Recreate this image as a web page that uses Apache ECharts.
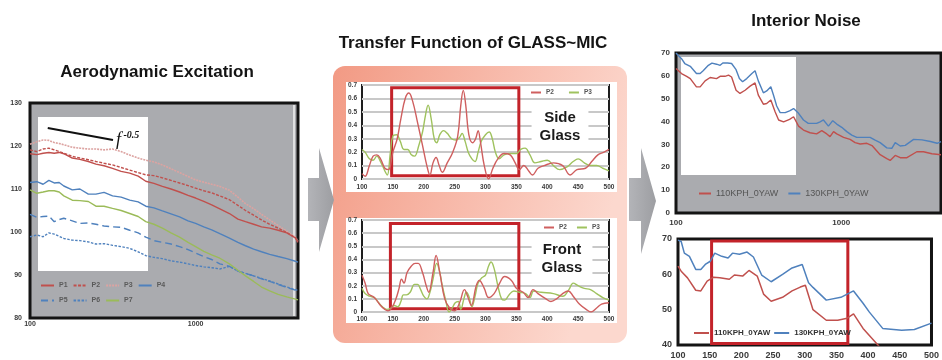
<!DOCTYPE html>
<html><head><meta charset="utf-8">
<script src="https://cdn.jsdelivr.net/npm/echarts@6/dist/echarts.min.js"></script>
<style>html,body{margin:0;padding:0;background:#fff}#c{width:942px;height:360px}</style>
</head><body><div id="c"></div>
<script>
// ---------- Aerodynamic Excitation (log frequency) ----------
const aeroFreq = [100,110,120,130,140,150,160,180,200,225,250,280,315,355,400,450,500,560,630,710,800,900,1000,1120,1250,1400,1600,1800,2000,2240,2500,2800,3150,3550,4000,4150];
const P1 = [118.2,118.0,118.3,118.5,118.3,118.5,118.2,117.2,116.9,116.4,115.8,115.4,114.8,114.1,113.7,113.0,111.8,111.3,110.6,110.0,109.3,108.5,107.9,107.1,106.3,105.4,104.3,103.0,102.4,101.8,101.2,100.9,100.4,99.8,98.6,97.6];
const P2 = [119.1,118.7,119.3,119.5,119.1,118.7,118.3,117.6,117.2,116.8,116.4,116.0,115.6,115.0,114.4,113.8,113.3,113.1,112.6,112.0,111.4,110.8,110.2,109.6,109.1,108.4,107.5,106.2,105.0,103.9,102.8,101.8,100.9,99.9,98.7,97.8];
const P3 = [120.4,121.0,121.4,121.3,120.8,120.6,120.3,119.7,119.5,119.3,119.3,119.1,119.3,118.7,117.9,117.2,116.7,116.3,115.6,114.7,113.8,112.9,112.1,111.6,111.1,110.6,109.7,108.1,106.6,105.4,104.1,102.8,101.5,100.2,98.8,97.9];
const P4 = [111.5,111.7,111.1,112.0,111.4,111.5,110.7,109.8,110.0,108.8,108.8,109.2,108.4,108.1,107.4,107.0,106.0,105.6,104.9,104.2,103.5,102.6,102.0,101.2,100.5,99.6,98.6,97.6,96.8,96.0,95.4,94.8,94.3,93.8,93.2,93.0];
const P5 = [104.1,103.4,103.6,103.7,102.4,102.9,103.2,102.6,102.0,102.1,101.8,101.4,101.2,101.1,100.4,99.8,98.8,98.0,97.6,97.2,96.6,95.9,95.1,94.3,93.6,92.6,92.0,90.9,90.4,89.8,89.1,88.5,87.8,87.1,86.5,86.3];
const P6 = [98.9,99.3,98.9,99.8,99.5,99.0,98.5,98.1,98.0,97.7,97.2,97.3,96.9,96.6,96.2,95.4,94.5,94.1,93.8,93.3,93.0,92.6,92.2,91.9,91.7,91.4,92.0,90.9,90.4,89.8,89.2,88.6,87.9,87.2,86.6,86.4];
const P7 = [109.8,109.0,109.3,109.6,109.6,109.3,108.4,107.4,107.3,107.1,106.0,106.0,105.5,105.0,104.3,103.6,102.4,101.8,100.9,99.8,98.8,97.6,96.6,95.5,94.7,93.9,92.6,91.1,89.8,88.5,87.2,86.3,85.5,84.9,84.4,84.2];
const slopeFrom = [128,124.2], slopeTo = [317,121.4];

// ---------- Transfer Function: Side Glass ----------
const sideX2 = [100,105,112,118,124,130,137,143,150,157,163,170,176,182,190,198,205,210,215,220,225,230,238,247,255,260,264,268,273,279,284,288,292,298,305,312,320,330,340,347,355,362,370,376,385,395,410,425,437,448,462,472,482,492,500];
const sideP2 = [0.04,0.02,0.1,0.17,0.18,0.15,0.08,0.07,0.2,0.3,0.45,0.6,0.64,0.58,0.42,0.25,0.1,0.03,0.12,0.16,0.1,0.05,0.12,0.2,0.32,0.55,0.66,0.55,0.33,0.27,0.3,0.36,0.27,0.1,0.0,0.08,0.15,0.19,0.18,0.13,0.07,0.1,0.06,0.03,0.08,0.1,0.12,0.1,0.03,0.07,0.08,0.13,0.18,0.2,0.22];
const sideX3 = [100,105,112,118,124,130,137,141,146,150,156,162,168,174,180,185,192,198,203,207,212,217,221,226,232,238,245,252,258,262,267,272,278,283,288,293,300,306,311,316,322,330,340,350,357,364,372,380,390,400,410,420,432,442,450,460,470,480,490,500];
const sideP3 = [0.22,0.2,0.15,0.14,0.17,0.13,0.06,0.03,0.2,0.32,0.33,0.28,0.22,0.22,0.18,0.17,0.25,0.35,0.48,0.55,0.45,0.3,0.27,0.33,0.36,0.34,0.3,0.29,0.31,0.34,0.28,0.2,0.15,0.13,0.2,0.28,0.33,0.35,0.3,0.2,0.15,0.18,0.19,0.19,0.22,0.23,0.18,0.12,0.13,0.14,0.1,0.07,0.09,0.13,0.15,0.12,0.1,0.1,0.08,0.06];
const sideBox = [[148,0.025],[354,0.68]];

// ---------- Transfer Function: Front Glass ----------
const frontX2 = [100,105,110,117,122,130,137,142,148,155,160,164,168,173,180,186,191,198,204,208,215,220,226,234,242,250,258,266,271,277,285,290,298,305,314,323,331,342,350,361,369,377,385,398,406,415,425,434,442,452,463,471,480,488,500];
const frontP2 = [0.28,0.22,0.14,0.12,0.1,0.05,0.02,0.01,0.03,0.1,0.18,0.25,0.22,0.3,0.35,0.37,0.37,0.3,0.2,0.15,0.3,0.43,0.3,0.1,0.03,0.01,0.07,0.17,0.12,0.05,0.2,0.24,0.18,0.11,0.14,0.22,0.27,0.24,0.18,0.15,0.11,0.17,0.14,0.1,0.08,0.1,0.14,0.16,0.12,0.06,0.02,0.0,0.03,0.06,0.07];
const frontX3 = [100,105,112,120,127,133,140,147,152,158,163,167,172,178,185,190,195,200,205,210,215,221,226,230,236,241,246,251,256,260,265,269,273,278,283,288,294,300,305,309,314,320,326,331,338,346,355,365,372,378,390,410,425,435,442,450,460,470,480,490,500];
const frontP3 = [0.18,0.14,0.12,0.11,0.07,0.04,0.02,0.03,0.05,0.04,0.08,0.13,0.13,0.15,0.21,0.21,0.17,0.12,0.1,0.15,0.25,0.37,0.3,0.2,0.08,0.0,0.03,0.07,0.08,0.02,0.1,0.15,0.12,0.04,0.12,0.22,0.26,0.28,0.35,0.38,0.33,0.2,0.1,0.09,0.13,0.16,0.15,0.14,0.11,0.16,0.15,0.14,0.12,0.17,0.22,0.2,0.18,0.17,0.14,0.11,0.09];
const frontBox = [[146,0.025],[354,0.674]];

// ---------- Interior Noise (log) ----------
const noiseF130 = [100,103,108,113,122,133,140,146,157,165,176,185,192,205,217,231,242,253,268,288,301,315,338,354,375,389,407,427,458,487,515,552,591,632,677,710,745,781,837,856,889,940,1008,1081,1159,1242,1364,1496,1605,1721,1889,2025,2123,2277,2442,2745,3086,3470,3808,4020];
const noise130 = [70,69,67.5,65.4,64.2,61,61,62.2,64.6,65.6,65.1,64.6,65.6,65.6,65.4,62.7,58.8,57.4,58.8,61,62.2,57.8,52.6,53.4,55.2,51.6,46.8,43.9,43.9,44.7,45.7,43.6,40.7,39.2,39.2,39.2,39.9,40.7,38,37.8,40.4,38.9,37.5,35.6,34.1,33.1,33.1,33.1,31.9,30.8,28.5,28.3,30.8,29.3,29.6,32.2,32.0,31.3,30.5,31.2];
const noiseF110 = [100,108,116,122,133,140,150,161,176,185,198,208,217,231,244,262,281,301,315,338,354,375,398,418,448,487,515,552,591,648,710,763,818,856,899,940,1034,1132,1214,1303,1431,1536,1721,1889,1980,2123,2277,2500,2870,3150,3540,4020];
const noise110 = [63.2,61,59.8,58.8,55.2,55.2,57.8,59.3,58.8,59.8,59.8,60.3,59.5,53.7,52.3,53.7,55.5,56.9,51.6,47.6,47.9,49.4,44.3,40.7,39.9,41,42.1,38,36.3,35.1,34.6,36,34.6,33.4,35.6,34.6,33.1,32.2,30.8,30.2,30.5,29.5,25.5,23.8,23,25.2,24.2,24.2,26.8,26.8,25.9,25.5];

// ---------- Interior Noise (linear 100-500) ----------
const linF130 = [100,105,110,118,128,136,143,151,158,169,179,186,197,209,219,232,247,265,280,296,306,313,334,357,377,392,402,423,453,473,500];
const lin130 = [69.7,69.3,66,65.1,61.4,61.4,62.8,63.7,66,65.1,64.6,66,65.7,66.3,64.9,59.8,57.9,60,61.8,62.8,57.6,56.3,52.7,53.5,55.3,51.8,49.3,44.7,44.2,44.4,46.2];
const linF110 = [100,105,115,128,136,146,156,166,181,189,202,212,225,235,247,265,280,293,301,313,334,352,367,377,392,413,430,460,500];
const lin110 = [62.3,60.9,59,55.5,55.3,58.1,59.2,59,58.6,59.8,59.5,61.1,59.5,54.4,52.4,53.5,55.3,56.4,56.9,50,47,47,47.6,48.8,44.7,40.5,37,35,34];
const linBox = [[153,40.4],[368,69.4]];

// ---------- Text ----------
const titles = ['Aerodynamic Excitation','Transfer Function of GLASS~MIC','Interior Noise'];
const aeroNames = ['P1','P2','P3','P4','P5','P6','P7'];
const tfNames = ['P2','P3'];
const noiseNames = ['110KPH_0YAW','130KPH_0YAW'];
const glassLabels = ['Side\nGlass','Front\nGlass'];

const zip = (xs, ys) => xs.map((x, i) => [x, ys[i]]);
const FONT = '"Liberation Sans", Arial, sans-serif';
const NARROW = '"Liberation Sans Narrow", "Liberation Sans", Arial, sans-serif';
const RED = '#c0504d', BLUE = '#4f81bd', GREEN = '#9bbb59', PINK = '#dca3a1';
const BOX = '#c3232a';

const chart = echarts.init(document.getElementById('c'), null, {renderer: 'canvas'});

function logFmt(v) { const r = Math.round(v); return (r === 100 || r === 1000) ? String(r) : ''; }
function lab(size, margin, extra) {
  return Object.assign({fontSize: size, fontWeight: 'bold', color: '#3a3a3a', margin: margin, fontFamily: FONT}, extra || {});
}
const noLine = {axisLine: {show: false}, axisTick: {show: false}};

function lineSeries(name, data, xi, color, width, type, extra) {
  return Object.assign({
    type: 'line', name: name, data: data, xAxisIndex: xi, yAxisIndex: xi,
    symbol: 'none', showSymbol: false, silent: true, animation: false,
    lineStyle: {color: color, width: width, type: type || 'solid'},
    itemStyle: {color: color}, emphasis: {disabled: true}
  }, extra || {});
}
function boxArea(b) {
  return {silent: true, itemStyle: {color: 'rgba(0,0,0,0)', borderColor: BOX, borderWidth: 3},
    data: [[{coord: b[0]}, {coord: b[1]}]]};
}

const series = [
  lineSeries('P3', zip(aeroFreq, P3), 0, PINK, 1.6, [2, 1]),
  lineSeries('P2', zip(aeroFreq, P2), 0, RED, 1.4, [3, 1.5]),
  lineSeries('P1', zip(aeroFreq, P1), 0, RED, 1.4, 'solid', {
    markLine: {silent: true, symbol: ['none', 'none'], animation: false,
      lineStyle: {color: '#111', width: 2, type: 'solid'},
      label: {show: true, position: 'end', distance: 3, formatter: '{a|f}{b| -0.5}',
        rich: {a: {fontFamily: '"Liberation Serif", serif', fontStyle: 'italic', fontSize: 18, color: '#111'},
               b: {fontFamily: '"Liberation Serif", serif', fontStyle: 'italic', fontWeight: 'bold', fontSize: 10, color: '#111', padding: [0, 0, 10, 0]}}},
      data: [[{coord: slopeFrom}, {coord: slopeTo}]]}
  }),
  lineSeries('P4', zip(aeroFreq, P4), 0, BLUE, 1.4),
  lineSeries('P5', zip(aeroFreq, P5), 0, BLUE, 1.4, [7, 4]),
  lineSeries('P6', zip(aeroFreq, P6), 0, BLUE, 1.4, [2.5, 1.5]),
  lineSeries('P7', zip(aeroFreq, P7), 0, GREEN, 1.4),

  lineSeries('s' + tfNames[1], zip(sideX3, sideP3), 1, '#9fc25e', 1.4, 'solid', {smooth: 0.4}),
  lineSeries('s' + tfNames[0], zip(sideX2, sideP2), 1, '#cf5f5f', 1.4, 'solid', {smooth: 0.4, markArea: boxArea(sideBox)}),
  lineSeries('f' + tfNames[1], zip(frontX3, frontP3), 2, '#9fc25e', 1.4, 'solid', {smooth: 0.4}),
  lineSeries('f' + tfNames[0], zip(frontX2, frontP2), 2, '#cf5f5f', 1.4, 'solid', {smooth: 0.4, markArea: boxArea(frontBox)}),

  lineSeries('t' + noiseNames[0], zip(noiseF110, noise110), 3, RED, 1.4),
  lineSeries('t' + noiseNames[1], zip(noiseF130, noise130), 3, BLUE, 1.4),
  lineSeries('b' + noiseNames[0], zip(linF110, lin110), 4, RED, 1.5, 'solid', {markArea: boxArea(linBox)}),
  lineSeries('b' + noiseNames[1], zip(linF130, lin130), 4, BLUE, 1.5)
];

const strip = n => n.slice(1);
const legendBase = {orient: 'horizontal', selectedMode: false, padding: 0, itemHeight: 7,
  itemStyle: {opacity: 0, borderWidth: 0}};

const option = {
  animation: false,
  textStyle: {fontFamily: FONT},
  grid: [
    {left: 30, top: 103, width: 268, height: 215, show: true, backgroundColor: '#aaabaf', borderColor: '#141414', borderWidth: 3},
    {left: 362, top: 85, width: 247, height: 94, show: true, backgroundColor: '#ffffff', borderColor: '#1e1e1e', borderWidth: 2},
    {left: 362, top: 220, width: 247, height: 92, show: true, backgroundColor: '#ffffff', borderColor: '#1e1e1e', borderWidth: 2},
    {left: 676, top: 53, width: 265, height: 160, show: true, backgroundColor: '#aaabaf', borderColor: '#141414', borderWidth: 3},
    {left: 678, top: 239, width: 262, height: 107, show: true, backgroundColor: '#ffffff', borderColor: '#141414', borderWidth: 3}
  ],
  xAxis: [
    Object.assign({gridIndex: 0, type: 'log', logBase: 10, min: 100, max: 4150, splitLine: {show: false},
      axisLabel: lab(7, 3, {formatter: logFmt, showMaxLabel: false})}, noLine),
    Object.assign({gridIndex: 1, type: 'value', min: 100, max: 500, interval: 50, splitLine: {show: false},
      axisLabel: lab(6.5, 5)}, noLine),
    Object.assign({gridIndex: 2, type: 'value', min: 100, max: 500, interval: 50, splitLine: {show: false},
      axisLabel: lab(6.5, 4)}, noLine),
    Object.assign({gridIndex: 3, type: 'log', logBase: 10, min: 100, max: 4020, splitLine: {show: false},
      axisLabel: lab(8, 6, {formatter: logFmt, showMaxLabel: false})}, noLine),
    Object.assign({gridIndex: 4, type: 'value', min: 100, max: 500, interval: 50, splitLine: {show: false},
      axisLabel: lab(9, 6)}, noLine)
  ],
  yAxis: [
    Object.assign({gridIndex: 0, type: 'value', min: 80, max: 130, interval: 10, splitLine: {show: false},
      axisLabel: lab(7, 8)}, noLine),
    Object.assign({gridIndex: 1, type: 'value', min: 0, max: 0.7, interval: 0.1,
      splitLine: {show: true, lineStyle: {color: '#c8c8c8', width: 2}}, axisLabel: lab(6.5, 5)}, noLine),
    Object.assign({gridIndex: 2, type: 'value', min: 0, max: 0.7, interval: 0.1,
      splitLine: {show: true, lineStyle: {color: '#c8c8c8', width: 2}}, axisLabel: lab(6.5, 5)}, noLine),
    Object.assign({gridIndex: 3, type: 'value', min: 0, max: 70, interval: 10, splitLine: {show: false},
      axisLabel: lab(8, 6)}, noLine),
    Object.assign({gridIndex: 4, type: 'value', min: 40, max: 70, interval: 10, splitLine: {show: false},
      axisLabel: lab(9, 6)}, noLine)
  ],
  legend: [
    Object.assign({}, legendBase, {data: aeroNames.slice(0, 4), left: 40, top: 282, itemWidth: 13, itemGap: 5,
      textStyle: {fontSize: 7, fontWeight: 'bold', color: '#5a5a5a', fontFamily: FONT}}),
    Object.assign({}, legendBase, {data: aeroNames.slice(4), left: 40, top: 297, itemWidth: 13, itemGap: 5,
      textStyle: {fontSize: 7, fontWeight: 'bold', color: '#5a5a5a', fontFamily: FONT}}),
    Object.assign({}, legendBase, {data: tfNames.map(n => 's' + n), formatter: strip, left: 530, top: 89, itemWidth: 10, itemGap: 14,
      textStyle: {fontSize: 6.5, fontWeight: 'bold', color: '#555', fontFamily: FONT}}),
    Object.assign({}, legendBase, {data: tfNames.map(n => 'f' + n), formatter: strip, left: 543, top: 224, itemWidth: 10, itemGap: 9,
      textStyle: {fontSize: 6.5, fontWeight: 'bold', color: '#555', fontFamily: FONT}}),
    Object.assign({}, legendBase, {data: noiseNames.map(n => 't' + n), formatter: strip, left: 698, top: 189, itemWidth: 12, itemGap: 9,
      textStyle: {fontSize: 9, color: '#555', fontFamily: NARROW}}),
    Object.assign({}, legendBase, {data: noiseNames.map(n => 'b' + n), formatter: strip, left: 693, top: 329, itemWidth: 15, itemGap: 3,
      textStyle: {fontSize: 8, fontWeight: 'bold', color: '#333', fontFamily: NARROW}})
  ],
  graphic: [
    {type: 'rect', z: -3, silent: true, shape: {x: 333, y: 66, width: 294, height: 277, r: 12},
      style: {fill: {type: 'linear', x: 0, y: 0, x2: 1, y2: 0.35, colorStops: [
        {offset: 0, color: '#f29a84'}, {offset: 0.55, color: '#f8bcad'}, {offset: 1, color: '#fcd8ce'}]}}},
    {type: 'rect', z: -2, silent: true, shape: {x: 346, y: 82, width: 271, height: 110}, style: {fill: '#ffffff'}},
    {type: 'rect', z: -2, silent: true, shape: {x: 346, y: 218, width: 271, height: 105}, style: {fill: '#ffffff'}},
    {type: 'polygon', z: -2, silent: true, shape: {points: [[308, 178], [319, 178], [319, 148], [334, 200], [319, 252], [319, 221], [308, 221]]},
      style: {fill: {type: 'linear', x: 0, y: 0, x2: 1, y2: 0, colorStops: [{offset: 0, color: '#b3b4b8'}, {offset: 1, color: '#9d9ea2'}]}}},
    {type: 'polygon', z: -2, silent: true, shape: {points: [[629, 178], [641, 178], [641, 148], [656, 201], [641, 254], [641, 221], [629, 221]]},
      style: {fill: {type: 'linear', x: 0, y: 0, x2: 1, y2: 0, colorStops: [{offset: 0, color: '#b3b4b8'}, {offset: 1, color: '#9d9ea2'}]}}},
    {type: 'rect', z: 1, silent: true, shape: {x: 38, y: 117, width: 110, height: 154}, style: {fill: '#ffffff'}},
    {type: 'rect', z: 1, silent: true, shape: {x: 681, y: 57, width: 115, height: 118}, style: {fill: '#ffffff'}},
    {type: 'line', z: 1, silent: true, shape: {x1: 294, y1: 105, x2: 294, y2: 316}, style: {stroke: '#f2f2f2', lineWidth: 1.5}},
    {type: 'text', z: 5, silent: true, x: 157, y: 72, style: {text: titles[0], font: 'bold 17px ' + FONT, fill: '#141414', align: 'center', verticalAlign: 'middle'}},
    {type: 'text', z: 5, silent: true, x: 473, y: 43, style: {text: titles[1], font: 'bold 17px ' + FONT, fill: '#141414', align: 'center', verticalAlign: 'middle'}},
    {type: 'text', z: 5, silent: true, x: 806, y: 21, style: {text: titles[2], font: 'bold 17px ' + FONT, fill: '#141414', align: 'center', verticalAlign: 'middle'}},
    {type: 'text', z: 1, silent: true, x: 560, y: 127, style: {text: glassLabels[0], font: 'bold 15px ' + FONT, fill: '#1a1a1a', align: 'center', verticalAlign: 'middle', lineHeight: 18, backgroundColor: '#ffffff', padding: [2, 8]}},
    {type: 'text', z: 1, silent: true, x: 562, y: 259, style: {text: glassLabels[1], font: 'bold 15px ' + FONT, fill: '#1a1a1a', align: 'center', verticalAlign: 'middle', lineHeight: 18, backgroundColor: '#ffffff', padding: [2, 10]}}
  ],
  series: series
};
chart.setOption(option);
</script>
</body></html>
